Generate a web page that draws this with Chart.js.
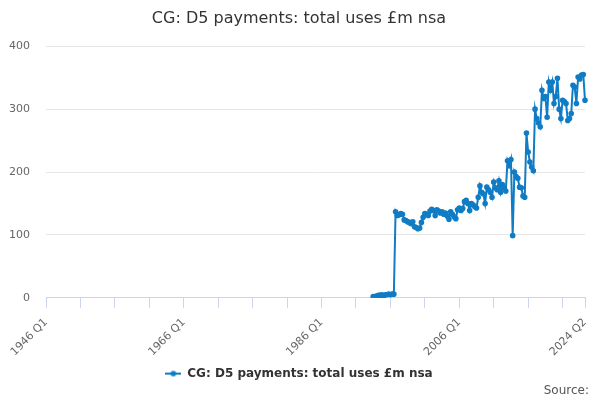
<!DOCTYPE html>
<html>
<head>
<meta charset="utf-8">
<script src="https://cdn.jsdelivr.net/npm/chart.js@4/dist/chart.umd.min.js"></script>
<style>
  html, body { margin: 0; padding: 0; background: #fff; }
  #wrap { width: 600px; height: 400px; }
</style>
</head>
<body>
<div id="wrap"><canvas id="chart"></canvas></div>
<script>
const chartTitle = 'CG: D5 payments: total uses £m nsa';
const seriesName = 'CG: D5 payments: total uses £m nsa';
const lineColor = '#0f7cc4';

// quarterly axis runs 1946 Q1 .. 2024 Q2
const axisStartYear = 1946;
const axisEndYear = 2024;
const axisEndQuarter = 2;
const shownTicks = ['1946 Q1', '1966 Q1', '1986 Q1', '2006 Q1', '2024 Q2'];
const yTicks = [0, 100, 200, 300, 400];

// series begins in 1993 Q3
const seriesStart = '1993 Q3';
const paymentValues = [
    2, 2, 3, 4, 4, 5, 3, 5, 5, 6, 5, 6, 6,
    137, 131, 132, 134, 133, 124, 123, 121, 120, 118, 121, 113, 112, 110, 111,
    120, 128, 134, 133, 131, 138, 141, 139, 131, 140, 138, 135, 137, 133, 135,
    130, 125, 137, 133, 129, 126, 140, 143, 139, 142, 153, 155, 150, 139, 150,
    148, 145, 143, 160, 178, 168, 165, 150, 176, 172, 168, 160, 184, 175, 172,
    186, 168, 180, 175, 170, 218, 210, 220, 99, 200, 193, 190, 176, 175, 162,
    160, 262, 232, 216, 208, 202, 300, 285, 278, 272, 330, 317, 320, 287, 343,
    330, 343, 309, 320, 349, 300, 285, 314, 312, 309, 282, 285, 293, 338, 335,
    309, 351, 348, 354, 355, 314
];

const quarterLabels = [];
for (let y = axisStartYear; y <= axisEndYear; y++) {
    for (let q = 1; q <= 4; q++) {
        if (y === axisEndYear && q > axisEndQuarter) break;
        quarterLabels.push(y + ' Q' + q);
    }
}
const startIndex = quarterLabels.indexOf(seriesStart);
const seriesData = quarterLabels.map((_, i) =>
    i >= startIndex && i - startIndex < paymentValues.length ? paymentValues[i - startIndex] : null);

function legendMarker() {
    const c = document.createElement('canvas');
    c.width = 16; c.height = 8;
    const g = c.getContext('2d');
    g.strokeStyle = lineColor; g.lineWidth = 2;
    g.beginPath(); g.moveTo(0, 4); g.lineTo(16, 4); g.stroke();
    g.fillStyle = lineColor;
    g.beginPath(); g.arc(8, 4, 2.8, 0, Math.PI * 2); g.fill();
    return c;
}

const axisBlue = '#ccd6eb';
const lastIndex = quarterLabels.length - 1;

new Chart(document.getElementById('chart'), {
    type: 'line',
    data: {
        labels: quarterLabels,
        datasets: [{
            label: seriesName,
            data: seriesData,
            borderColor: lineColor,
            backgroundColor: lineColor,
            borderWidth: 2,
            pointRadius: 1.8,
            pointHoverRadius: 3,
            tension: 0,
            spanGaps: false
        }]
    },
    options: {
        responsive: true,
        maintainAspectRatio: false,
        animation: false,
        layout: { padding: { left: 9, right: 11, top: 2, bottom: 2 } },
        scales: {
            x: {
                type: 'category',
                offset: false,
                border: { color: axisBlue },
                grid: {
                    drawOnChartArea: false,
                    tickLength: 10,
                    color: ctx => (ctx.index % 20 === 0 || ctx.index === lastIndex) ? axisBlue : 'transparent'
                },
                // let the first rotated label hang left without widening the plot
                afterFit: axis => {
                    axis.paddingLeft = 0;
                    axis.paddingRight = 15;
                    if (axis._margins) { axis._margins.left = 0; axis._margins.right = 15; }
                },
                ticks: {
                    autoSkip: false,
                    minRotation: 45,
                    maxRotation: 45,
                    padding: 8,
                    color: '#666',
                    font: { family: 'DejaVu Sans', size: 11 },
                    callback: function(value, index) {
                        const lab = quarterLabels[index];
                        return shownTicks.includes(lab) ? lab : '';
                    }
                }
            },
            y: {
                min: 0,
                max: 400,
                border: { display: false },
                grid: { color: '#e6e6e6', drawTicks: false },
                afterBuildTicks: axis => { axis.ticks = yTicks.map(v => ({ value: v })); },
                afterFit: axis => { axis.width = 37; },
                ticks: {
                    padding: 16,
                    color: '#666',
                    font: { family: 'DejaVu Sans', size: 11 }
                }
            }
        },
        plugins: {
            title: {
                display: true,
                text: chartTitle,
                color: '#333',
                font: { family: 'DejaVu Sans', size: 16, weight: 'normal' },
                padding: { top: 7, bottom: 18 }
            },
            legend: {
                position: 'bottom',
                labels: {
                    usePointStyle: true,
                    pointStyleWidth: 16,
                    color: '#333',
                    font: { family: 'DejaVu Sans', size: 12, weight: 'bold' },
                    padding: 1,
                    generateLabels: chart => [{
                        text: seriesName,
                        pointStyle: legendMarker(),
                        fillStyle: lineColor,
                        strokeStyle: lineColor,
                        lineWidth: 0,
                        fontColor: '#333',
                        datasetIndex: 0
                    }]
                }
            },
            subtitle: {
                display: true,
                position: 'bottom',
                align: 'end',
                text: 'Source:',
                color: '#555',
                font: { family: 'DejaVu Sans', size: 12 },
                padding: { top: -6, bottom: 0 }
            },
            tooltip: { enabled: false }
        }
    }
});
</script>
</body>
</html>
